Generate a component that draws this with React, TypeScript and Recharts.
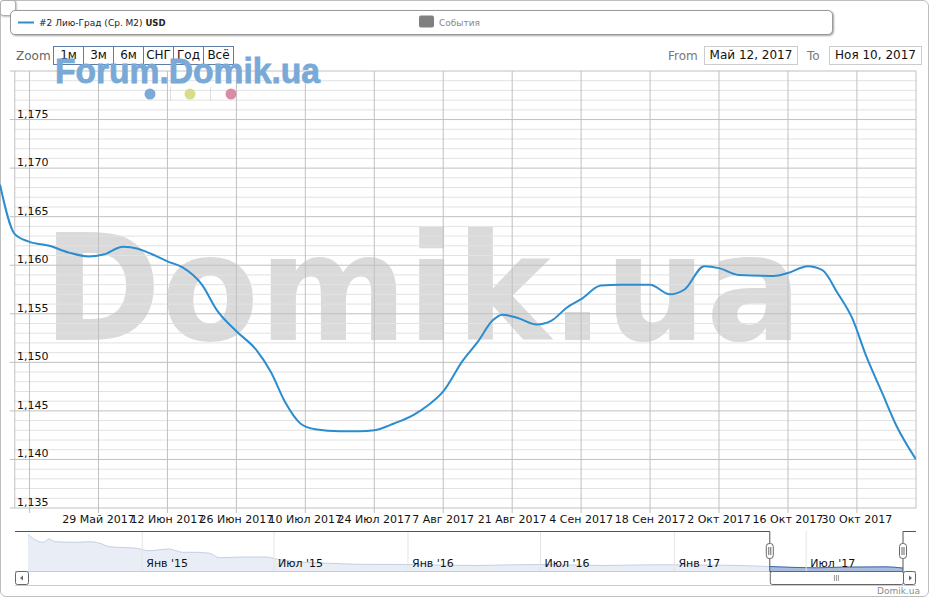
import React from 'react';
import { LineChart, Line, XAxis, YAxis, ReferenceLine, AreaChart, Area } from 'recharts';

const FONT = '"DejaVu Sans", Verdana, sans-serif';

// ---- main series (Лию-Град, USD) ----
const mainDates = [
  '2017-05-09', '2017-05-12', '2017-05-15', '2017-05-19', '2017-05-23', '2017-05-27', '2017-05-30',
  '2017-06-03', '2017-06-06', '2017-06-09', '2017-06-12', '2017-06-15', '2017-06-19', '2017-06-22',
  '2017-06-26', '2017-06-30', '2017-07-03', '2017-07-06', '2017-07-09', '2017-07-12', '2017-07-17',
  '2017-07-21', '2017-07-24', '2017-07-28', '2017-08-01', '2017-08-04', '2017-08-07', '2017-08-11',
  '2017-08-14', '2017-08-17', '2017-08-19', '2017-08-22', '2017-08-26', '2017-08-29', '2017-09-01',
  '2017-09-04', '2017-09-08', '2017-09-12', '2017-09-18', '2017-09-22', '2017-09-25', '2017-09-29',
  '2017-10-02', '2017-10-06', '2017-10-13', '2017-10-16', '2017-10-20', '2017-10-23', '2017-10-26',
  '2017-10-29', '2017-11-01', '2017-11-04', '2017-11-07', '2017-11-11',
];
const mainValues = [
  1.1683, 1.1632, 1.1624, 1.1620, 1.1613, 1.1609, 1.1611,
  1.1619, 1.1617, 1.1611, 1.1604, 1.1598, 1.1580, 1.1554,
  1.1532, 1.1513, 1.1490, 1.1458, 1.1437, 1.1431, 1.1429,
  1.1429, 1.1430, 1.1437, 1.1446, 1.1456, 1.1470, 1.1502,
  1.1521, 1.1543, 1.1549, 1.1546, 1.1539, 1.1543, 1.1556,
  1.1565, 1.1579, 1.1580, 1.1580, 1.1570, 1.1575, 1.1599,
  1.1597, 1.1590, 1.1589, 1.1592, 1.1599, 1.1595, 1.1572,
  1.1546, 1.1505, 1.1470, 1.1435, 1.1400,
];

const xTickDates = [
  '2017-05-15', '2017-05-29', '2017-06-12', '2017-06-26', '2017-07-10', '2017-07-24', '2017-08-07',
  '2017-08-21', '2017-09-04', '2017-09-18', '2017-10-02', '2017-10-16', '2017-10-30',
];
const xTickLabels = [
  '', '29 Май 2017', '12 Июн 2017', '26 Июн 2017', '10 Июл 2017', '24 Июл 2017', '7 Авг 2017',
  '21 Авг 2017', '4 Сен 2017', '18 Сен 2017', '2 Окт 2017', '16 Окт 2017', '30 Окт 2017',
];
const yLabelTicks = [1.135, 1.14, 1.145, 1.15, 1.155, 1.16, 1.165, 1.17, 1.175];
const yMajorGrid = [1.135, 1.14, 1.145, 1.15, 1.155, 1.16, 1.165, 1.17, 1.175, 1.18];
const yMin = 1.135;
const yMax = 1.18;
const mainStart = '2017-05-09';
const mainEnd = '2017-11-11';
const rangeFrom = '2017-05-12';
const axisTickStart = '2017-05-11';

// ---- navigator series (full history) ----
const navDates = [
  '2014-07-28', '2014-08-07', '2014-08-18', '2014-08-26', '2014-09-03', '2014-10-02', '2014-10-21',
  '2014-11-04', '2014-11-17', '2014-12-24', '2015-01-10', '2015-02-07', '2015-02-25', '2015-03-16',
  '2015-04-03', '2015-04-17', '2015-05-19', '2015-06-20', '2015-07-04', '2015-08-01', '2015-09-16',
  '2015-11-01', '2016-01-01', '2016-02-15', '2016-04-01', '2016-05-15', '2016-07-01', '2016-08-15',
  '2016-10-01', '2016-11-15', '2017-01-01', '2017-02-15', '2017-04-01', '2017-05-12', '2017-07-15',
  '2017-08-20', '2017-10-20', '2017-11-11',
];
const navValues = [
  1.632, 1.550, 1.516, 1.564, 1.525, 1.516, 1.525,
  1.502, 1.452, 1.429, 1.394, 1.419, 1.371, 1.371,
  1.357, 1.293, 1.303, 1.303, 1.274, 1.235, 1.212,
  1.196, 1.194, 1.185, 1.180, 1.188, 1.194, 1.186,
  1.180, 1.188, 1.190, 1.186, 1.180, 1.165, 1.146,
  1.156, 1.160, 1.142,
];
const navTickDates = ['2015-01-01', '2015-07-01', '2016-01-01', '2016-07-01', '2017-01-01', '2017-07-01'];
const navTickLabels = ["Янв '15", "Июл '15", "Янв '16", "Июл '16", "Янв '17", "Июл '17"];
const navStart = '2014-07-28';
const navEnd = '2017-11-11';
const navMin = 1.1;
const navMax = 1.68;

const zoomButtons = ['1м', '3м', '6м', 'СНГ', 'Год', 'Всё'];

const ts = (d: string) => new Date(d + 'T00:00:00Z').getTime();

const mainData = mainDates.map((d, i) => ({ t: ts(d), v: mainValues[i] }));
const xTicks = xTickDates.map(ts);
const xLabelMap: Record<number, string> = {};
xTickDates.forEach((d, i) => { xLabelMap[ts(d)] = xTickLabels[i]; });

const minorGrid: number[] = [];
for (let k = Math.round(yMin * 1000); k <= Math.round(yMax * 1000); k++) {
  if (k % 5 !== 0) minorGrid.push(k / 1000);
}

const navData = navDates.map((d, i) => {
  const t = ts(d);
  const inSel = t >= ts(rangeFrom) && t <= ts(mainEnd);
  return { t, v: navValues[i], sel: inSel ? navValues[i] : null };
});

const fmtY = (v: number) => v.toFixed(3).replace('.', ',');

const YTick = (props: any) => {
  const { y, payload } = props;
  return (
    <text x={17} y={y - 2} fontSize={11} fill="#111" fontFamily={FONT}>
      {fmtY(payload.value)}
    </text>
  );
};

// navigator pixel geometry (its own linear scale)
const NAV_LEFT = 28;
const NAV_W = 875;
const NAV_TOP = 531;
const NAV_H = 40;
const navX = (d: string) => NAV_LEFT + ((ts(d) - ts(navStart)) / (ts(navEnd) - ts(navStart))) * NAV_W;

export default function App() {
  const sx = navX(rangeFrom);
  const ex = navX(mainEnd);
  const gripX = (sx + ex) / 2;
  return (
    <div style={{ position: 'relative', width: 931, height: 600, fontFamily: FONT, overflow: 'hidden', background: '#fff' }}>
      <style>{`body{margin:0}`}</style>

      {/* outer border */}
      <div style={{ position: 'absolute', left: 0, top: 0, width: 927, height: 595, border: '1px solid #bdbdbd', borderRadius: 6 }} />
      {/* small corner button */}
      <div style={{ position: 'absolute', left: 0, top: 0, width: 14, height: 14, border: '1px solid #b0b0b0', borderRadius: 3, background: '#fff', boxShadow: '1px 1px 2px rgba(0,0,0,0.25)' }} />

      {/* big watermark behind chart */}
      <svg style={{ position: 'absolute', left: 0, top: 0 }} width={931} height={600}>
        <text x={43} y={340} fontSize={148} fontWeight="bold" fill="#dadada" textLength={759} lengthAdjust="spacingAndGlyphs" fontFamily={FONT}>
          Domik.ua
        </text>
      </svg>

      {/* main chart */}
      <div style={{ position: 'absolute', left: 0, top: 0 }}>
        <LineChart width={931} height={530} data={mainData} margin={{ top: 71, right: 15, bottom: 0, left: -1 }}>
          <XAxis
            dataKey="t"
            type="number"
            domain={[ts(mainStart), ts(mainEnd)]}
            allowDataOverflow
            ticks={xTicks}
            interval={0}
            tickFormatter={(v: number) => xLabelMap[v] ?? ''}
            tickLine={{ stroke: '#c0c0c0' }}
            tickSize={5}
            axisLine={false}
            height={22}
            tick={{ fontSize: 11, fill: '#111', fontFamily: FONT }}
          />
          <YAxis
            type="number"
            domain={[yMin, yMax]}
            allowDataOverflow
            width={1}
            ticks={yLabelTicks}
            tick={<YTick />}
            axisLine={false}
            tickLine={false}
            interval={0}
          />
          {minorGrid.map((v) => (
            <ReferenceLine
              key={'mn' + v}
              segment={[{ x: ts(rangeFrom), y: v }, { x: ts(mainEnd), y: v }]}
              stroke="#e2e2e2"
              strokeWidth={1}
              ifOverflow="visible"
            />
          ))}
          {yMajorGrid.map((v) => (
            <ReferenceLine
              key={'mj' + v}
              segment={[{ x: ts(axisTickStart), y: v }, { x: ts(mainEnd), y: v }]}
              stroke="#c0c0c0"
              strokeWidth={1}
              ifOverflow="visible"
            />
          ))}
          {xTicks.map((t) => (
            <ReferenceLine key={'vx' + t} x={t} stroke="#c0c0c0" strokeWidth={1} ifOverflow="visible" />
          ))}
          <ReferenceLine x={ts(rangeFrom)} stroke="#c0c0c0" ifOverflow="visible" />
          <ReferenceLine x={ts(mainEnd)} stroke="#c0c0c0" ifOverflow="visible" />
          <Line type="monotone" dataKey="v" stroke="#2b8dcf" strokeWidth={2} dot={false} isAnimationActive={false} />
        </LineChart>
      </div>

      {/* navigator */}
      <div style={{ position: 'absolute', left: NAV_LEFT, top: NAV_TOP }}>
        <AreaChart width={NAV_W} height={NAV_H} data={navData} margin={{ top: 0, right: 0, bottom: 0, left: 0 }}>
          <XAxis dataKey="t" type="number" domain={[ts(navStart), ts(navEnd)]} hide allowDataOverflow />
          <YAxis type="number" domain={[navMin, navMax]} hide allowDataOverflow />
          <Area type="monotone" dataKey="v" stroke="#c4d0e4" strokeWidth={1} fill="#e9edf5" fillOpacity={1} dot={false} isAnimationActive={false} />
          <Area type="monotone" dataKey="sel" stroke="#3f69ad" strokeWidth={1} fill="#a8bbdc" fillOpacity={1} dot={false} isAnimationActive={false} />
          {navTickDates.map((d, i) => (
            <ReferenceLine
              key={d}
              x={ts(d)}
              stroke="#e4e4e4"
              ifOverflow="visible"
              label={{ value: navTickLabels[i], position: 'insideBottomLeft', offset: 4, fontSize: 11, fill: '#111', fontFamily: FONT }}
            />
          ))}
        </AreaChart>
      </div>

      {/* navigator / scrollbar chrome */}
      <svg style={{ position: 'absolute', left: 0, top: 0, pointerEvents: 'none' }} width={931} height={600}>
        <line x1={15} y1={571.5} x2={916} y2={571.5} stroke="#cccccc" />
        <line x1={15} y1={585.5} x2={916} y2={585.5} stroke="#cccccc" />
        <path d={`M15 531.5 H${sx} V571.5 H${ex} V531.5 H916`} fill="none" stroke="#555" strokeWidth={1} />
        {[sx, ex].map((hx, i) => (
          <g key={i}>
            <rect x={hx - 3.5} y={543.5} width={7} height={15} rx={3} fill="#fff" stroke="#666" />
            <line x1={hx - 1} y1={547} x2={hx - 1} y2={555} stroke="#666" />
            <line x1={hx + 1} y1={547} x2={hx + 1} y2={555} stroke="#666" />
          </g>
        ))}
        <rect x={15.5} y={571.5} width={13} height={13} rx={2} fill="#fff" stroke="#666" />
        <path d="M20 578 L23 575.5 L23 580.5 Z" fill="#666" />
        <rect x={903.5} y={571.5} width={12} height={13} rx={2} fill="#fff" stroke="#666" />
        <path d="M912 578 L909 575.5 L909 580.5 Z" fill="#666" />
        <rect x={sx + 0.5} y={571.5} width={ex - sx} height={13} rx={2} fill="#fff" stroke="#666" />
        {[-2, 0, 2].map((o) => (
          <line key={o} x1={gripX + o} y1={575} x2={gripX + o} y2={581} stroke="#999" />
        ))}
        <text x={920} y={594} fontSize={9} fill="#8c8c8c" textAnchor="end" fontFamily={FONT}>Domik.ua</text>
      </svg>

      {/* legend box */}
      <div style={{ position: 'absolute', left: 10, top: 10, width: 821, height: 23, border: '1px solid #9a9a9a', borderRadius: 5, background: '#fff', boxShadow: '1px 1px 2px rgba(0,0,0,0.35)' }}>
        <svg width={821} height={23} style={{ position: 'absolute', left: 0, top: 0 }}>
          <line x1={7} y1={11.5} x2={23} y2={11.5} stroke="#2b8dcf" strokeWidth={2} />
          <text x={28} y={15} fontSize={9} fill="#222" fontFamily={FONT}>
            #2 Лию-Град (Ср. М2) <tspan fontWeight="bold" fontSize={8.5}>USD</tspan>
          </text>
          <rect x={408} y={4.5} width={15} height={12} rx={2} fill="#808080" />
          <text x={428} y={15} fontSize={9} fill="#888" fontFamily={FONT}>События</text>
        </svg>
      </div>

      {/* range selector */}
      <div style={{ position: 'absolute', left: 16, top: 47, height: 18, lineHeight: '18px', fontSize: 12, color: '#666' }}>Zoom</div>
      <div style={{ position: 'absolute', left: 53, top: 46, display: 'flex' }}>
        {zoomButtons.map((b, i) => (
          <div
            key={b}
            style={{
              width: 29, height: 17, lineHeight: '17px', textAlign: 'center', fontSize: 12, color: '#111',
              border: '1px solid #5d7ca6', borderLeft: i === 0 ? '1px solid #5d7ca6' : 'none', background: '#fff',
            }}
          >
            {b}
          </div>
        ))}
      </div>
      <div style={{ position: 'absolute', left: 668, top: 47, height: 18, lineHeight: '18px', fontSize: 12, color: '#777' }}>From</div>
      <div style={{ position: 'absolute', left: 704, top: 46, width: 92, height: 17, lineHeight: '17px', border: '1px solid #ccc', fontSize: 12, color: '#111', textAlign: 'center' }}>Май 12, 2017</div>
      <div style={{ position: 'absolute', left: 807, top: 47, height: 18, lineHeight: '18px', fontSize: 12, color: '#777' }}>To</div>
      <div style={{ position: 'absolute', left: 829, top: 46, width: 91, height: 17, lineHeight: '17px', border: '1px solid #ccc', fontSize: 12, color: '#111', textAlign: 'center' }}>Ноя 10, 2017</div>

      {/* Forum.Domik.ua overlay watermark */}
      <svg style={{ position: 'absolute', left: 0, top: 0, pointerEvents: 'none' }} width={931} height={110}>
        <text x={55} y={83} fontSize={35} fontWeight="bold" fill="#78a9d7" stroke="#78a9d7" strokeWidth={0.8} textLength={265} lengthAdjust="spacingAndGlyphs" fontFamily='"Liberation Sans", Arial, sans-serif'>
          Forum.Domik.ua
        </text>
        <circle cx={150} cy={94} r={5.5} fill="#7aaad7" />
        <line x1={170.5} y1={87} x2={170.5} y2={101} stroke="#dddddd" />
        <circle cx={190} cy={94} r={5.5} fill="#d9dc8b" />
        <line x1={210.5} y1={87} x2={210.5} y2={101} stroke="#dddddd" />
        <circle cx={231} cy={94} r={5.5} fill="#d98da4" />
      </svg>
    </div>
  );
}
